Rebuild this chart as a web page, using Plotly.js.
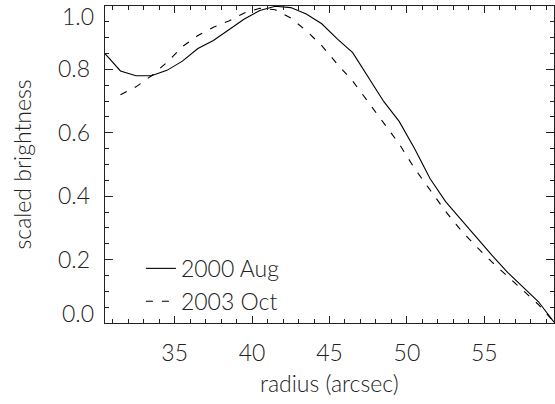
<!DOCTYPE html>
<html>
<head>
<meta charset="utf-8">
<script src="https://cdn.plot.ly/plotly-3.0.1.min.js"></script>
<style>html,body{margin:0;padding:0;background:#fff}#chart{width:555px;height:404px}</style>
</head>
<body>
<div id="chart"></div>
<script>
// radius in arcsec
const radiusAug = [30.5,31.5,32.5,33.5,34.5,35.5,36.5,37.5,38.5,39.5,40.5,41.5,42.5,43.5,44.5,45.5,46.5,47.5,48.5,49.5,50.5,51.5,52.5,53.5,54.5,55.5,56.5,57.5,58.5,59.5];
const brightAug = [0.850,0.795,0.780,0.780,0.797,0.826,0.866,0.891,0.925,0.959,0.986,0.999,0.995,0.975,0.944,0.896,0.853,0.776,0.699,0.636,0.550,0.455,0.383,0.326,0.268,0.213,0.160,0.114,0.067,0.003];
const radiusOct = [31.5,32.5,33.5,34.5,35.5,36.5,37.5,38.5,39.5,40.5,41.5,42.5,43.5,44.5,45.5,46.5,47.5,48.5,49.5,50.5,51.5,52.5,53.5,54.5,55.5,56.5,57.5,58.5,59.5];
const brightOct = [0.720,0.745,0.780,0.822,0.872,0.907,0.933,0.953,0.978,0.993,0.988,0.962,0.922,0.875,0.817,0.763,0.697,0.632,0.565,0.487,0.418,0.352,0.292,0.240,0.192,0.147,0.104,0.058,0.003];
const seriesNames = ['2000 Aug','2003 Oct'];
const xTickVals = [35,40,45,50,55];
const xTickText = ['35','40','45','50','55'];
const yTickVals = [0,0.2,0.4,0.6,0.8,1.0];
const yTickText = ['0.0','0.2','0.4','0.6','0.8','1.0'];
const xTitle = 'radius (arcsec)';
const yTitle = 'scaled brightness';

const FONT = 'Lato, "Open Sans", sans-serif';
const W = 300;
const INK = '#222';
const FS = 23;

const traces = [
  {x: radiusAug, y: brightAug, name: seriesNames[0], mode: 'lines', type: 'scatter',
   line: {color: '#000', width: 1.1}},
  {x: radiusOct, y: brightOct, name: seriesNames[1], mode: 'lines', type: 'scatter',
   line: {color: '#000', width: 1.1, dash: '7px,9px'}}
];

const yLabelTexts = yTickText.map((t, i) => (i === 0 || i === yTickText.length - 1) ? '' : t);
const txtFont = {family: FONT, size: FS, color: INK, weight: W};
const annotations = [
  {xref: 'paper', yref: 'y', x: 0, y: yTickVals[0], text: yTickText[0], showarrow: false,
   xanchor: 'right', yanchor: 'middle', xshift: -9, yshift: 10, font: txtFont},
  {xref: 'paper', yref: 'y', x: 0, y: yTickVals[yTickVals.length - 1], text: yTickText[yTickText.length - 1], showarrow: false,
   xanchor: 'right', yanchor: 'middle', xshift: -9, yshift: -10, font: txtFont},
  {xref: 'paper', yref: 'paper', x: 0.5, y: 0, text: xTitle, showarrow: false,
   xanchor: 'center', yanchor: 'middle', yshift: -60, font: txtFont}
];

const axisCommon = {
  showline: true, linecolor: INK, linewidth: 1.3, mirror: 'ticks',
  ticks: 'inside', tickcolor: INK, tickwidth: 1.1,
  showgrid: false, zeroline: false,
  tickfont: {family: FONT, size: FS, color: INK, weight: W}
};

const layout = {
  width: 555, height: 404,
  margin: {l: 105, r: 1, t: 5.5, b: 81},
  paper_bgcolor: '#fff', plot_bgcolor: '#fff',
  font: {family: FONT, color: INK, weight: W},
  showlegend: true,
  legend: {x: 0.08, y: 0.24, xanchor: 'left', yanchor: 'top', bgcolor: 'rgba(0,0,0,0)',
           borderwidth: 0, font: txtFont, tracegroupgap: 0},
  xaxis: Object.assign({}, axisCommon, {
    range: [30.5, 59.5], tickmode: 'array', tickvals: xTickVals, ticktext: xTickText,
    ticklen: 7, ticklabelstandoff: 9,
    minor: {dtick: 1, ticklen: 4, ticks: 'inside', tickcolor: INK, tickwidth: 1, showgrid: false}
  }),
  yaxis: Object.assign({}, axisCommon, {
    range: [0, 1.0], tickmode: 'array', tickvals: yTickVals, ticktext: yLabelTexts,
    ticklen: 8, ticklabelstandoff: 9,
    minor: {dtick: 0.05, tick0: 0, ticklen: 4, ticks: 'inside', tickcolor: INK, tickwidth: 1, showgrid: false},
    title: {text: yTitle, font: txtFont, standoff: 20}
  }),
  annotations: annotations
};

Plotly.newPlot('chart', traces, layout, {staticPlot: true, displayModeBar: false});
</script>
</body>
</html>
